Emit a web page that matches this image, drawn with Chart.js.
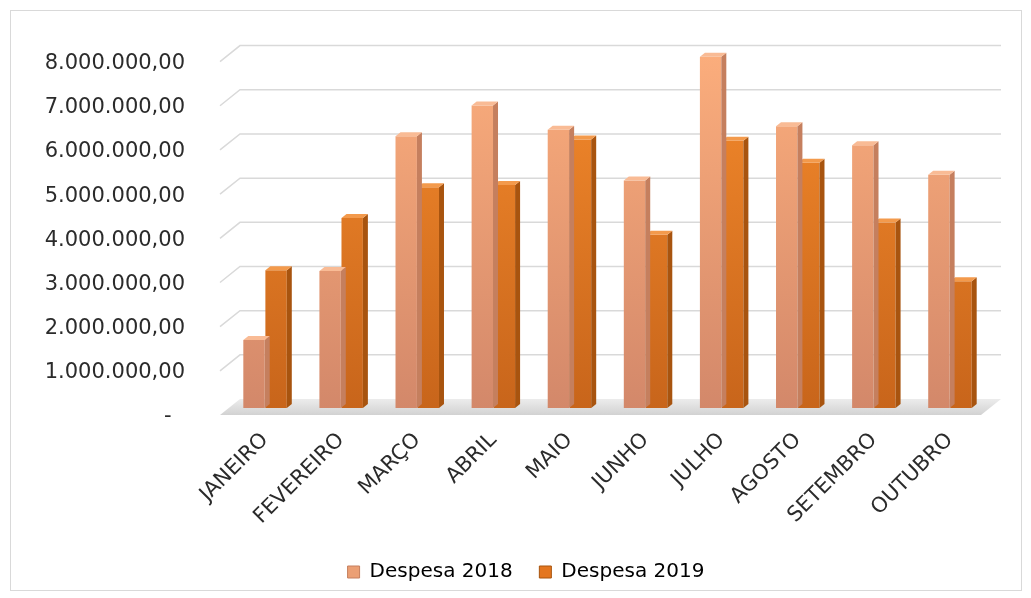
<!DOCTYPE html>
<html>
<head>
<meta charset="utf-8">
<title>Despesa 2018 x 2019</title>
<script src="https://cdn.jsdelivr.net/npm/chart.js@4.4.1/dist/chart.umd.min.js"></script>
<style>
    html, body { margin: 0; padding: 0; background: #ffffff; }
    #wrap { position: relative; width: 1031px; height: 598px; }
</style>
</head>
<body>
<div id="wrap"><canvas id="despesaChart" width="1031" height="598"></canvas></div>
<script>
// Chart data
const months = ['JANEIRO', 'FEVEREIRO', 'MARÇO', 'ABRIL', 'MAIO', 'JUNHO', 'JULHO', 'AGOSTO', 'SETEMBRO', 'OUTUBRO'];
const despesa2018 = [1540000, 3100000, 6150000, 6850000, 6300000, 5150000, 7950000, 6380000, 5950000, 5280000];
const despesa2019 = [3120000, 4300000, 5000000, 5050000, 6080000, 3920000, 6050000, 5550000, 4200000, 2870000];
const yTicks = [0, 1000000, 2000000, 3000000, 4000000, 5000000, 6000000, 7000000, 8000000];

// 3D look: depth of the floor / walls and of the bars
const DEPTH = { fx: -7, fy: 7, bx: 13, by: -9 };
const BAR_DX = 5, BAR_DY = -4;

function fmtBR(v) {
    if (v === 0) return '-  ';
    const s = Math.round(v).toString().replace(/\B(?=(\d{3})+(?!\d))/g, '.');
    return s + ',00';
}

function barFill(light) {
    return (ctx) => {
        const chart = ctx.chart;
        const area = chart.chartArea;
        if (!area) return light ? '#eb9a70' : '#e4761f';
        const g = chart.ctx.createLinearGradient(0, area.top, 0, area.bottom);
        if (light) {
            g.addColorStop(0, '#fbad7c');
            g.addColorStop(1, '#d3886a');
        } else {
            g.addColorStop(0, '#f48a2c');
            g.addColorStop(1, '#c8651b');
        }
        return g;
    };
}

const sideColors = ['#c57f5e', '#a8540f'];
const topColors = ['#f9bb95', '#f39a4c'];

// draws back-wall gridlines and the floor
const wallPlugin = {
    id: 'wall',
    beforeDatasetsDraw(chart) {
        const { ctx, chartArea, scales } = chart;
        const y = scales.y;
        ctx.save();
        ctx.strokeStyle = '#d9d9d9';
        ctx.lineWidth = 1.5;
        yTicks.forEach(v => {
            if (v === 0) return;
            const py = y.getPixelForValue(v);
            ctx.beginPath();
            ctx.moveTo(chartArea.left + DEPTH.fx, py + DEPTH.fy);
            ctx.lineTo(chartArea.left + DEPTH.bx, py + DEPTH.by);
            ctx.lineTo(chartArea.right + DEPTH.bx, py + DEPTH.by);
            ctx.stroke();
        });
        // floor
        const b = y.getPixelForValue(0);
        ctx.beginPath();
        ctx.moveTo(chartArea.left + DEPTH.fx, b + DEPTH.fy);
        ctx.lineTo(chartArea.left + DEPTH.bx, b + DEPTH.by);
        ctx.lineTo(chartArea.right + DEPTH.bx, b + DEPTH.by);
        ctx.lineTo(chartArea.right + DEPTH.fx, b + DEPTH.fy);
        ctx.closePath();
        const g = ctx.createLinearGradient(0, b + DEPTH.by, 0, b + DEPTH.fy);
        g.addColorStop(0, '#ececec');
        g.addColorStop(1, '#d2d2d2');
        ctx.fillStyle = g;
        ctx.fill();
        ctx.restore();
    }
};

// side and top faces of every bar
const bar3dPlugin = {
    id: 'bar3d',
    afterDatasetDraw(chart, args) {
        const { ctx } = chart;
        const meta = args.meta;
        ctx.save();
        meta.data.forEach(bar => {
            const { x, y, base, width } = bar.getProps(['x', 'y', 'base', 'width'], true);
            const r = x + width / 2, l = x - width / 2;
            ctx.fillStyle = sideColors[args.index];
            ctx.beginPath();
            ctx.moveTo(r, y);
            ctx.lineTo(r + BAR_DX, y + BAR_DY);
            ctx.lineTo(r + BAR_DX, base + BAR_DY);
            ctx.lineTo(r, base);
            ctx.closePath();
            ctx.fill();
            ctx.fillStyle = topColors[args.index];
            ctx.beginPath();
            ctx.moveTo(l, y);
            ctx.lineTo(l + BAR_DX, y + BAR_DY);
            ctx.lineTo(r + BAR_DX, y + BAR_DY);
            ctx.lineTo(r, y);
            ctx.closePath();
            ctx.fill();
        });
        ctx.restore();
    }
};

// nudge the legend to where it sits in the original
const legendShift = {
    id: 'legendShift',
    afterLayout(chart) {
        const lg = chart.legend;
        if (!lg) return;
        lg.left += 32; lg.right += 32;
        lg.top += 2; lg.bottom += 2;
    }
};

// thin frame round the chart
const framePlugin = {
    id: 'frame',
    afterDraw(chart) {
        const { ctx } = chart;
        ctx.save();
        ctx.strokeStyle = '#d9d9d9';
        ctx.lineWidth = 1;
        ctx.strokeRect(10.5, 10.5, 1011, 580);
        ctx.restore();
    }
};

new Chart(document.getElementById('despesaChart'), {
    type: 'bar',
    data: {
        labels: months,
        datasets: [
            { label: 'Despesa 2018', data: despesa2018, backgroundColor: barFill(true) },
            { label: 'Despesa 2019', data: despesa2019, backgroundColor: barFill(false) }
        ]
    },
    options: {
        responsive: false,
        animation: false,
        devicePixelRatio: 1,
        layout: { padding: { left: 0, right: 43, top: 54, bottom: 8 } },
        datasets: { bar: { categoryPercentage: 0.58, barPercentage: 0.97 } },
        scales: {
            x: {
                grid: { display: false, drawTicks: false },
                border: { display: false },
                ticks: {
                    autoSkip: false,
                    minRotation: 45,
                    maxRotation: 45,
                    padding: 20,
                    color: '#2b2b2b',
                    font: { family: 'DejaVu Sans', size: 21 }
                },
                afterFit(scale) { scale.height = 138; }
            },
            y: {
                min: 0,
                max: 8000000,
                grid: { display: false, drawTicks: false },
                border: { display: false },
                afterBuildTicks(scale) { scale.ticks = yTicks.map(v => ({ value: v })); },
                afterFit(scale) { scale.width = 227; },
                ticks: {
                    padding: 42,
                    labelOffset: 9,
                    color: '#2b2b2b',
                    font: { family: 'DejaVu Sans', size: 21 },
                    callback: (v) => fmtBR(v)
                }
            }
        },
        plugins: {
            tooltip: { enabled: false },
            legend: {
                position: 'bottom',
                labels: {
                    color: '#2b2b2b',
                    font: { family: 'DejaVu Sans', size: 20 },
                    boxWidth: 12,
                    boxHeight: 12,
                    padding: 14,
                    generateLabels: () => [
                        { text: 'Despesa 2018  ', fillStyle: '#eb9f74', strokeStyle: '#c57f5e', lineWidth: 1, datasetIndex: 0 },
                        { text: 'Despesa 2019', fillStyle: '#e4761f', strokeStyle: '#a8540f', lineWidth: 1, datasetIndex: 1 }
                    ]
                }
            }
        }
    },
    plugins: [wallPlugin, bar3dPlugin, legendShift, framePlugin]
});
</script>
</body>
</html>
